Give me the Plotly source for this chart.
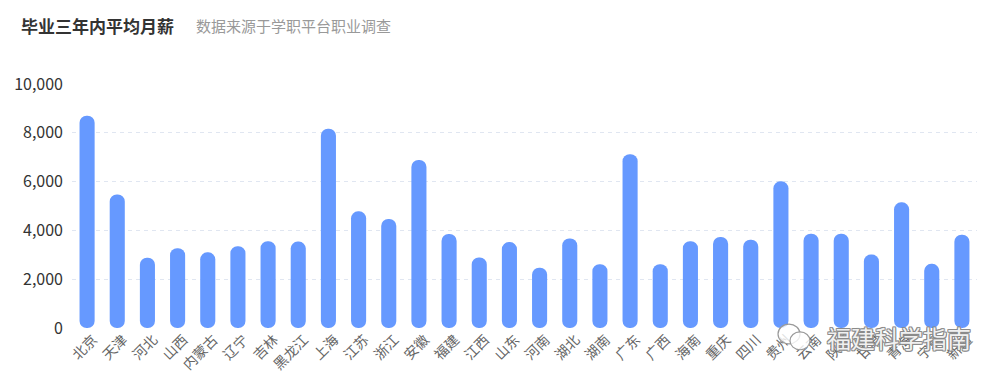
import plotly.graph_objects as go

provinces = ["北京", "天津", "河北", "山西", "内蒙古", "辽宁", "吉林", "黑龙江", "上海", "江苏",
             "浙江", "安徽", "福建", "江西", "山东", "河南", "湖北", "湖南", "广东", "广西",
             "海南", "重庆", "四川", "贵州", "云南", "陕西", "甘肃", "青海", "宁夏", "新疆"]
salaries = [8700, 5470, 2880, 3270, 3100, 3350, 3560, 3540, 8170, 4780,
            4470, 6890, 3850, 2890, 3520, 2470, 3670, 2610, 7120, 2610,
            3560, 3730, 3620, 6010, 3860, 3860, 3010, 5150, 2630, 3820]
y_tick_values = [0, 2000, 4000, 6000, 8000, 10000]
y_tick_labels = ["0", "2,000", "4,000", "6,000", "8,000", "10,000"]

title_text = "毕业三年内平均月薪"
subtitle_text = "数据来源于学职平台职业调查"
watermark_text = "福建科学指南"

BAR_COLOR = "#6699ff"
FONT = "Noto Sans CJK SC"

ML, MR, MT, MB = 72, 23, 84, 54
W, H = 1000, 385
pw = W - ML - MR
ph = H - MT - MB
Y_MAX = 10000
N = len(provinces)
BAR_W = 0.5

fig = go.Figure()
fig.add_trace(go.Bar(
    x=provinces, y=salaries, base=[0] * N, width=BAR_W,
    marker=dict(color=BAR_COLOR, cornerradius="50%", line=dict(width=0)),
    hovertemplate="%{x}: %{y}<extra></extra>"))

def px_x(p):
    return (p - ML) / pw

def px_y(p):
    return (H - MB - p) / ph

outline = ("1px 0 0 #8a8a8a, -1px 0 0 #8a8a8a, 0 1px 0 #8a8a8a, 0 -1px 0 #8a8a8a, "
           "1px 1px 0 #8a8a8a, -1px -1px 0 #8a8a8a, 1px -1px 0 #8a8a8a, -1px 1px 0 #8a8a8a")

fig.update_layout(
    width=W, height=H,
    margin=dict(l=ML, r=MR, t=MT, b=MB, pad=0),
    barmode="overlay",
    showlegend=False,
    plot_bgcolor="white",
    paper_bgcolor="white",
    font=dict(family=FONT, color="#666666"),
    annotations=[
        dict(text="<b>" + title_text + "</b>", xref="paper", yref="paper",
             x=px_x(19), y=px_y(25), xanchor="left", yanchor="middle", showarrow=False,
             font=dict(size=17, color="#333333", family=FONT)),
        dict(text=subtitle_text, xref="paper", yref="paper",
             x=px_x(194), y=px_y(25), xanchor="left", yanchor="middle", showarrow=False,
             font=dict(size=15, color="#999999", family=FONT)),
        dict(text=watermark_text, xref="paper", yref="paper",
             x=px_x(899), y=px_y(341), xanchor="center", yanchor="middle", showarrow=False,
             font=dict(size=24, color="rgba(255,255,255,0.9)", family=FONT, shadow=outline)),
    ],
    shapes=[
        dict(type="circle", xref="paper", yref="paper",
             x0=px_x(778), x1=px_x(800), y0=px_y(347), y1=px_y(327),
             line=dict(color="#9a9a9a", width=1.2), fillcolor="rgba(255,255,255,0.8)", layer="above"),
        dict(type="circle", xref="paper", yref="paper",
             x0=px_x(790), x1=px_x(810), y0=px_y(353), y1=px_y(335),
             line=dict(color="#9a9a9a", width=1.2), fillcolor="rgba(255,255,255,0.8)", layer="above"),
    ],
)
fig.update_xaxes(
    type="category", tickangle=-45, ticks="", showgrid=False, zeroline=False,
    showline=False, tickfont=dict(size=14, color="#666666", family=FONT),
    ticklabelshift=6, range=[-0.5, N - 0.5],
)
fig.update_yaxes(
    range=[0, Y_MAX], tickvals=y_tick_values, ticktext=y_tick_labels,
    showgrid=True, gridcolor="#e0e6f1", griddash="4px,4px", gridwidth=1,
    zeroline=False, showline=False, ticks="",
    tickfont=dict(size=16, color="#333333", family=FONT), ticklabelstandoff=8,
)

fig.write_html("out.html", config={"displayModeBar": False},
               post_script="document.body.style.margin='0';document.body.style.overflow='hidden';")
